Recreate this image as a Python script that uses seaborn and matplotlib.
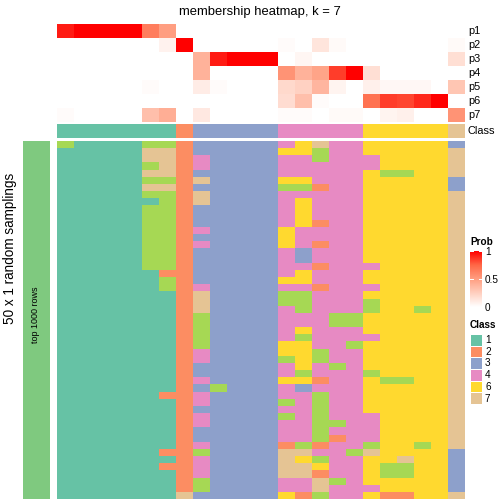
import matplotlib
matplotlib.use('Agg')
import matplotlib.pyplot as plt
import seaborn as sns
import numpy as np
from matplotlib.colors import ListedColormap, LinearSegmentedColormap
from matplotlib.patches import Rectangle

W = H = 504

# membership probabilities, one list per class, 24 samples
prob_labels = ['p1', 'p2', 'p3', 'p4', 'p5', 'p6', 'p7']
p1 = [0.93, 1, 1, 1, 1, 0.65, 0.5, 0, 0, 0, 0, 0, 0, 0, 0, 0, 0, 0, 0, 0, 0, 0, 0, 0]
p2 = [0, 0, 0, 0, 0, 0, 0.07, 1, 0, 0, 0, 0, 0, 0.02, 0, 0.14, 0.03, 0, 0, 0, 0, 0, 0, 0.03]
p3 = [0, 0, 0, 0, 0, 0, 0, 0, 0.4, 0.93, 1, 1, 1, 0, 0.05, 0, 0, 0, 0, 0, 0, 0, 0, 0.17]
p4 = [0, 0, 0, 0, 0, 0, 0, 0, 0.4, 0, 0, 0, 0, 0.55, 0.4, 0.47, 0.85, 1, 0.17, 0, 0, 0, 0, 0]
p5 = [0, 0, 0, 0, 0, 0.02, 0, 0, 0.1, 0.02, 0, 0, 0, 0.2, 0.24, 0.38, 0.06, 0, 0.08, 0.04, 0.04, 0.04, 0, 0.3]
p6 = [0, 0, 0, 0, 0, 0, 0, 0, 0, 0, 0, 0, 0, 0.18, 0.33, 0.02, 0, 0, 0.7, 0.85, 0.83, 0.9, 1, 0]
p7 = [0.02, 0, 0, 0, 0, 0.33, 0.42, 0, 0.12, 0, 0, 0, 0, 0.02, 0.02, 0, 0.03, 0.03, 0, 0.06, 0.08, 0, 0, 0.55]

# consensus class of each sample
sample_class = [1, 1, 1, 1, 1, 1, 1, 2, 3, 3, 3, 3, 3, 4, 4, 4, 4, 4, 6, 6, 6, 6, 6, 7]

# class labels from 50 random samplings (one string per sampling)
samplings = [
    "511115523333346744666663",
    "111117723333366544666667",
    "111117724333344544466667",
    "111115724333344444466667",
    "111117723333344444655667",
    "111115527333366444666663",
    "111117723333355244666663",
    "111115527333344444666667",
    "111111527333346444666667",
    "111115523333346444666667",
    "111115523333346444666667",
    "111115523333346244666667",
    "111115524333364444666667",
    "111115523333364444666667",
    "111115524333364244666667",
    "111115523333343444666667",
    "111115523333343444666667",
    "111115523333344244466667",
    "111111223333346444666667",
    "111111523333366444666667",
    "111111524333344244466667",
    "111111127333355444666667",
    "111111127333355444566667",
    "111111127333345444566567",
    "111111125333344455666667",
    "111111125333344455666667",
    "111111125333346444666667",
    "111111125333345444466667",
    "111111125333366445666667",
    "111111124333366544666667",
    "111111124333356544666667",
    "111111123333346454666667",
    "111111123333345444566667",
    "111111124333366244655667",
    "111111123533343444666667",
    "111111224333344544666667",
    "111111124333354544666667",
    "111111123333344544666667",
    "111111124333354544466667",
    "111111124333344554466667",
    "111111123333344544466667",
    "111111123333344524466667",
    "111111124333325244566567",
    "111111225333377445766663",
    "111111124333376544667663",
    "111111224333377644655663",
    "111111124333377244655663",
    "111111125333344754666663",
    "111111125333344744466663",
    "111111173333362544622667",
]

legend_classes = [1, 2, 3, 4, 6, 7]
class_colors = ['#66C2A5', '#FC8D62', '#8DA0CB', '#E78AC3', '#A6D854', '#FFD92F', '#E5C494']

prob = np.array([p1, p2, p3, p4, p5, p6, p7])
membership = np.array([[int(c) for c in s] for s in samplings])

prob_cmap = LinearSegmentedColormap.from_list(
    'prob', ['#FFFFFF', '#FFCFBF', '#FF9E81', '#FF6746', '#FF0000'])
class_cmap = ListedColormap(class_colors)


def rect(x0, y0, x1, y1):
    return [x0 / W, 1 - y1 / H, (x1 - x0) / W, (y1 - y0) / H]


def ftext(x, y, s, **kw):
    fig.text(x / W, 1 - y / H, s, **kw)


plt.rcParams['font.family'] = ['Liberation Sans', 'DejaVu Sans']
fig = plt.figure(figsize=(W / 72, H / 72), dpi=72)

ax_p = fig.add_axes(rect(57, 24, 465, 122))
cax = fig.add_axes(rect(470, 251, 482, 307))
sns.heatmap(prob, ax=ax_p, cmap=prob_cmap, vmin=0, vmax=1,
            xticklabels=False, yticklabels=False,
            cbar=True, cbar_ax=cax, cbar_kws={'ticks': [0, 0.5, 1]})
cax.tick_params(length=0, labelsize=10, pad=3)
cax.set_yticklabels(['0', '0.5', '1'])
for t in [0.5, 1]:
    cax.axhline(t, color='white', lw=1, xmax=0.25)
    cax.axhline(t, color='white', lw=1, xmin=0.75)

ax_c = fig.add_axes(rect(57, 124, 465, 138))
sns.heatmap(np.array([sample_class]), ax=ax_c, cmap=class_cmap, vmin=0.5, vmax=7.5,
            xticklabels=False, yticklabels=False, cbar=False)

ax_m = fig.add_axes(rect(57, 141, 465, 499))
sns.heatmap(membership, ax=ax_m, cmap=class_cmap, vmin=0.5, vmax=7.5,
            xticklabels=False, yticklabels=False, cbar=False)

ax_l = fig.add_axes(rect(23, 141, 50, 499))
ax_l.set_facecolor('#7FC97F')
ax_l.set_xticks([])
ax_l.set_yticks([])
for s in ax_l.spines.values():
    s.set_visible(False)
ftext(36, 315, 'top 1000 rows', fontsize=9, rotation=90, ha='center', va='center')

for i, lab in enumerate(prob_labels):
    ftext(468, 31 + 14 * i, lab, fontsize=11, va='center', ha='left')
ftext(468, 131, 'Class', fontsize=11, va='center', ha='left')

ftext(260, 12, 'membership heatmap, k = 7', fontsize=13, ha='center', va='center')
ftext(10, 248, '50 x 1 random samplings', fontsize=13.5, rotation=90, ha='center', va='center')

ftext(470, 242, 'Prob', fontsize=10, fontweight='bold', ha='left', va='center')
ftext(470, 325, 'Class', fontsize=10, fontweight='bold', ha='left', va='center')
for i, k in enumerate(legend_classes):
    y0 = 334 + 11.7 * i
    fig.add_artist(Rectangle((470 / W, 1 - (y0 + 11.7) / H), 12 / W, 11.7 / H,
                             transform=fig.transFigure, facecolor=class_colors[k - 1],
                             edgecolor='white', lw=1))
    ftext(485, y0 + 6, str(k), fontsize=10, ha='left', va='center')

fig.savefig('out.png', dpi=72)
